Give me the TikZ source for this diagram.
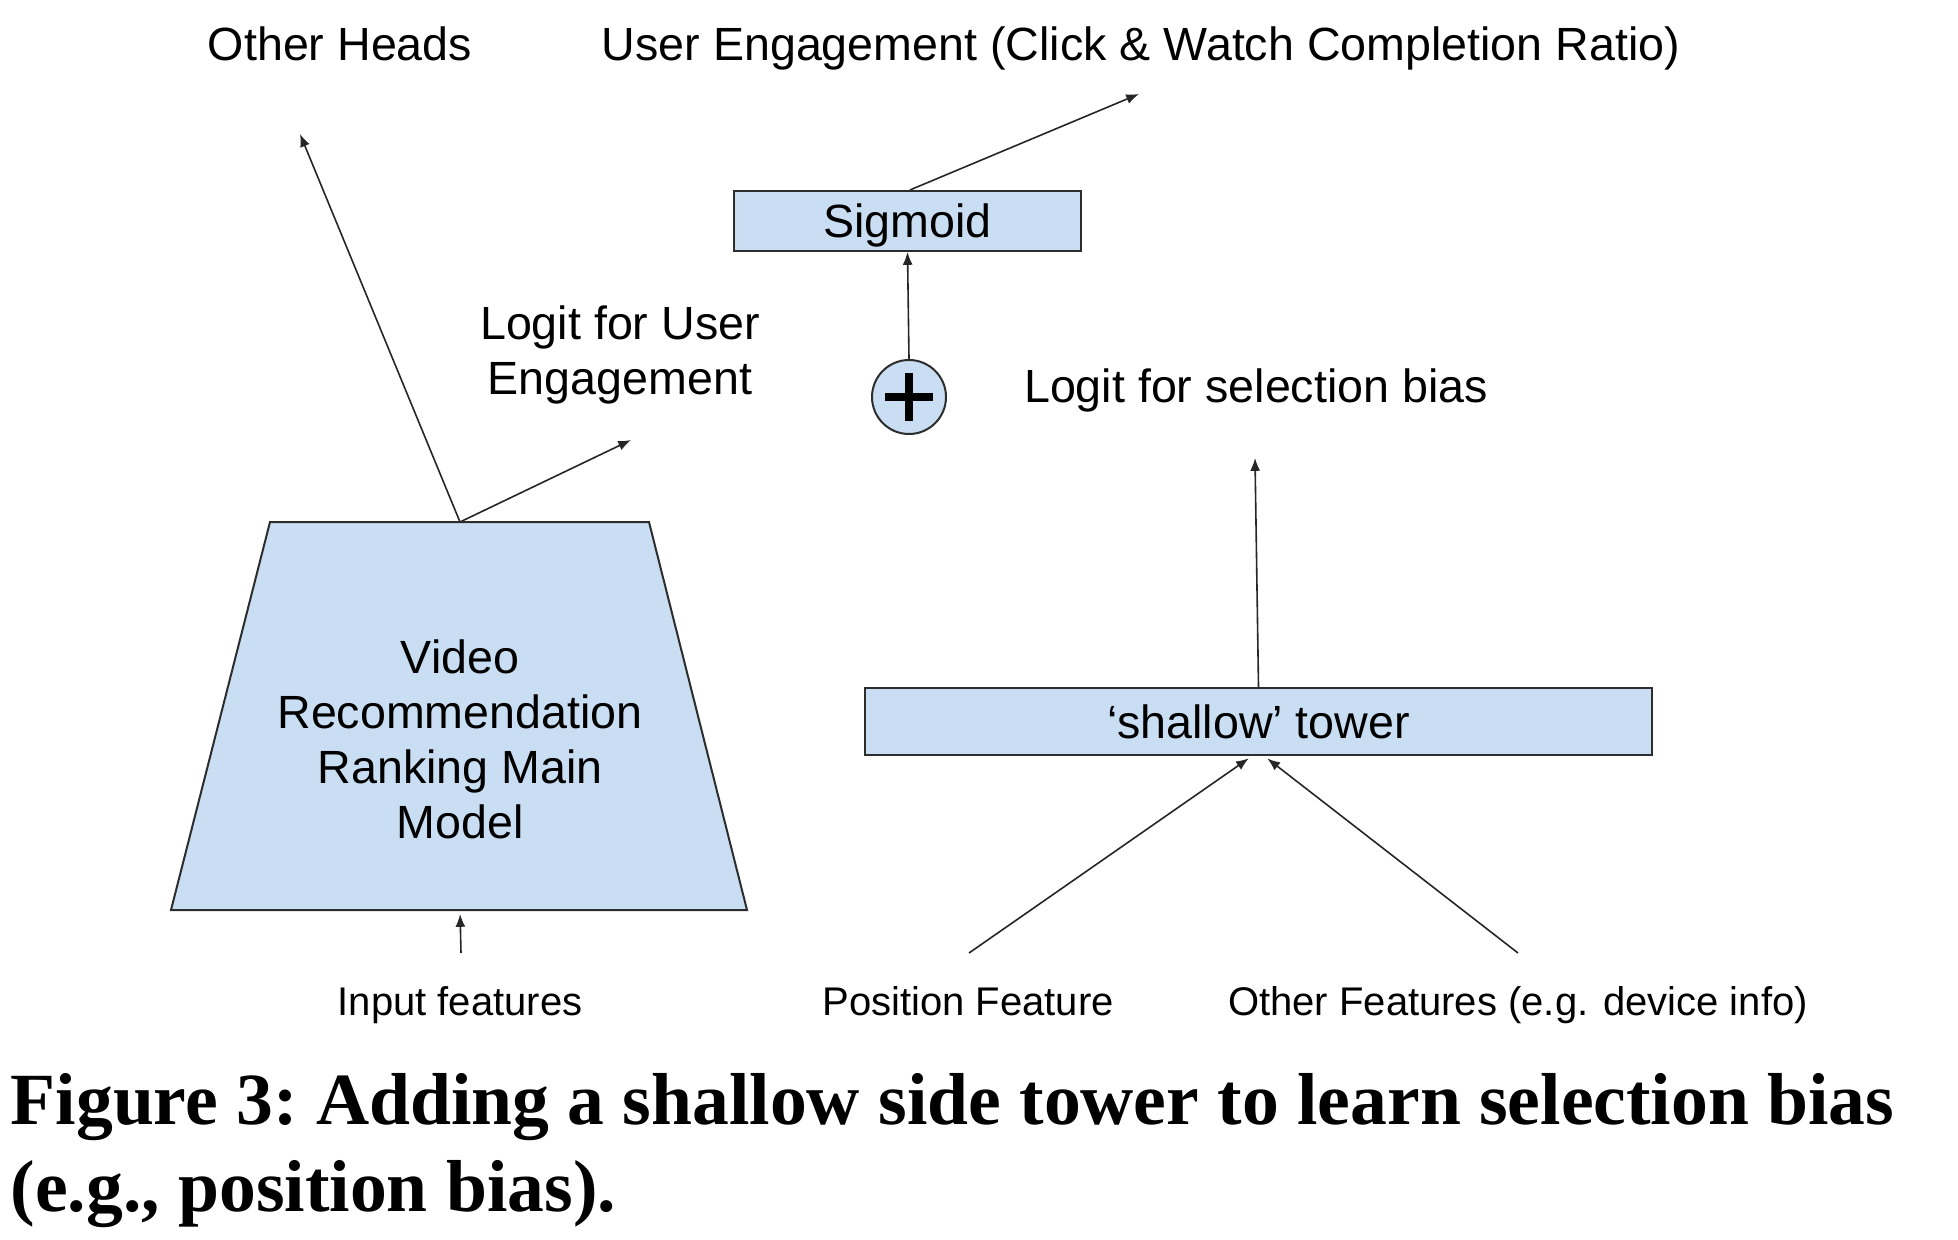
\documentclass[tikz,border=0pt]{standalone}
\usepackage{fontspec}
\setmainfont{Liberation Sans}
\newfontfamily\captionfont{Liberation Serif}
\usetikzlibrary{positioning,shapes.geometric,arrows.meta}

\definecolor{boxblue}{RGB}{201,222,242}
\definecolor{edgegray}{RGB}{45,45,45}

\tikzset{
  labeltext/.style={inner sep=0pt, font=\fontsize{11.65}{13.75}\selectfont, align=center, yshift=-1pt},
  oneline/.style={labeltext, text height=0.73em, text depth=0.21em},
  smalltext/.style={oneline, font=\fontsize{10}{12}\selectfont},
  blockbox/.style={draw=edgegray, fill=boxblue, line width=0.5pt, inner sep=0pt, text depth=0pt, font=\fontsize{11.65}{13.75}\selectfont},
  arrowline/.style={-{Latex[length=3.2pt,width=2.5pt]}, line width=0.4pt, draw=black!85},
}

\begin{document}
\begin{tikzpicture}[x=0.25pt, y=-0.25pt]
  \useasboundingbox (0,0) rectangle (1958,1240);

  % main ranking model
  \coordinate (rankmodel-top) at (460,522);
  \coordinate (rankmodel-bottom) at (460,910);
  \draw[blockbox] (270,522) -- (649,522) -- (747,910) -- (171,910) -- cycle;
  \node[labeltext] (rankmodel) at (460,735)
    {Video\\Recommendation\\Ranking Main\\Model};

  % side tower
  \node[blockbox, minimum width=196.75pt, minimum height=16.75pt] (shallow) at (1258.5,721.5) {`shallow' tower};
  \node[blockbox, minimum width=86.75pt, minimum height=15pt] (sigmoid) at (907.5,221) {Sigmoid};
  \node[blockbox, circle, minimum size=18.5pt] (plus) at (909,397) {};
  \draw[line width=2pt, draw=black] ([xshift=-5.9pt]plus.center) -- ([xshift=5.9pt]plus.center);
  \draw[line width=2pt, draw=black] ([yshift=-5.9pt]plus.center) -- ([yshift=5.9pt]plus.center);

  % labels
  \node[oneline] (otherheads) at (340,46) {Other Heads};
  \node[oneline] (userengage) at (1141,46) {User Engagement (Click \& Watch Completion Ratio)};
  \node[labeltext] (logituser) at (620,351) {Logit for User\\Engagement};
  \node[oneline] (logitbias) at (1256,388) {Logit for selection bias};
  \node[smalltext] (inputfeat) at (460,1001) {Input features};
  \node[smalltext] (posfeat) at (968,1001) {Position Feature};
  \node[smalltext] (otherfeat) at (1518,1001) {Other Features (e.g. device info)};

  % free ends
  \coordinate (otherheads-tip) at (300,134);
  \coordinate (logituser-tip) at (631,440);
  \coordinate (logitbias-tip) at (1255,458);
  \coordinate (userengage-tip) at (1139,94);
  \coordinate (inputfeat-top) at (461,953);
  \coordinate (posfeat-top) at (969,953);
  \coordinate (otherfeat-top) at (1518,953);

  % connectors
  \draw[arrowline] (rankmodel-top) -- (otherheads-tip);
  \draw[arrowline] (rankmodel-top) -- (logituser-tip);
  \draw[arrowline, shorten >=1pt] (inputfeat-top) -- (rankmodel-bottom);
  \draw[arrowline, shorten >=1pt] (posfeat-top) -- ([xshift=-1.6pt]shallow.south);
  \draw[arrowline, shorten >=1pt] (otherfeat-top) -- ([xshift=1.4pt]shallow.south);
  \draw[arrowline] (shallow.north) -- (logitbias-tip);
  \draw[arrowline] (plus.north) -- (sigmoid.south);
  \draw[arrowline] ([xshift=0.6pt]sigmoid.north) -- (userengage-tip);

  % caption
  \node[anchor=west, align=left, inner sep=0pt, font=\captionfont\bfseries\fontsize{18.4}{21.75}\selectfont] (caption) at (10,1151)
    {\frenchspacing Figure 3: Adding a shallow side tower to learn selection bias\\(e.g., position bias).};
\end{tikzpicture}
\end{document}
